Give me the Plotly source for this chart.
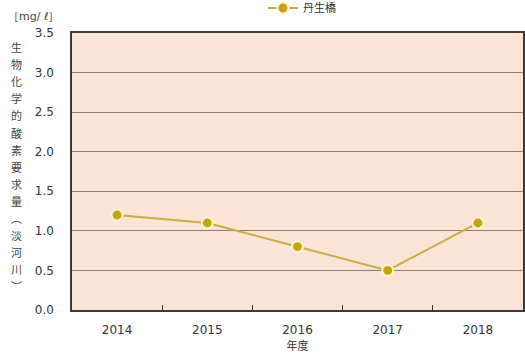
import plotly.graph_objects as go

years = ["2014", "2015", "2016", "2017", "2018"]
bod = [1.2, 1.1, 0.8, 0.5, 1.1]
series_name = "丹生橋"
y_ticks = [0.0, 0.5, 1.0, 1.5, 2.0, 2.5, 3.0, 3.5]
y_title_chars = ["生", "物", "化", "学", "的", "酸", "素", "要", "求", "量", "︵", "淡", "河", "川", "︶"]

font_main = "DejaVu Sans, Verdana, sans-serif"
font_cjk = "Noto Sans CJK JP, sans-serif"

W, H = 525, 360
ML, MR, MT, MB = 72, 2, 33, 50
plot_h = H - MT - MB
plot_w = W - ML - MR

fig = go.Figure()
fig.add_trace(go.Scatter(
    x=years, y=bod, name=series_name, mode="lines+markers",
    line=dict(color="#C6AE45", width=2),
    marker=dict(size=11, color="#C8A414", line=dict(color="#FFF6D0", width=2)),
))

fig.update_layout(
    width=W, height=H,
    margin=dict(l=ML, r=MR, t=MT, b=MB, autoexpand=False),
    paper_bgcolor="white",
    plot_bgcolor="#FBE4D5",
    showlegend=True,
    legend=dict(orientation="h", x=0.51, xanchor="center", y=1.0 + 25 / plot_h,
                yanchor="middle", font=dict(family=font_cjk, size=11, color="#333"),
                bgcolor="rgba(0,0,0,0)", itemwidth=30),
    xaxis=dict(
        type="category", range=[-0.5, len(years) - 0.5],
        tickson="boundaries", ticks="inside", ticklen=5,
        tickcolor="#333", showgrid=False, showline=True, linecolor="#3A3A3A",
        linewidth=1.5, mirror=True, ticklabelstandoff=8,
        tickfont=dict(family=font_main, size=12, color="#333"),
        title=dict(text="年度", font=dict(family=font_cjk, size=11, color="#333"), standoff=6),
    ),
    yaxis=dict(
        range=[0, 3.5], tickvals=y_ticks, ticktext=[f"{v:.1f}" for v in y_ticks],
        showgrid=True, gridcolor="#8C7D70", gridwidth=1,
        showline=True, linecolor="#3A3A3A", linewidth=1.5, mirror=True,
        ticks="", ticklabelstandoff=14,
        tickfont=dict(family=font_main, size=12, color="#333"),
        zeroline=False,
    ),
)

# vertical axis title, one character per line
top_px, step_px = 47, 17.1
for i, ch in enumerate(y_title_chars):
    ypix = top_px + i * step_px
    fig.add_annotation(
        text=ch, xref="paper", yref="paper",
        x=(16 - ML) / plot_w, y=(H - MB - ypix) / plot_h,
        xanchor="center", yanchor="middle", showarrow=False,
        font=dict(family=font_cjk, size=11, color="#444"),
    )

fig.add_annotation(
    text="［mg/ ℓ］", xref="paper", yref="paper",
    x=(6 - ML) / plot_w, y=(H - MB - 16) / plot_h,
    xanchor="left", yanchor="middle", showarrow=False,
    font=dict(family=font_main, size=11, color="#444"),
)

fig.write_html("out.html")
